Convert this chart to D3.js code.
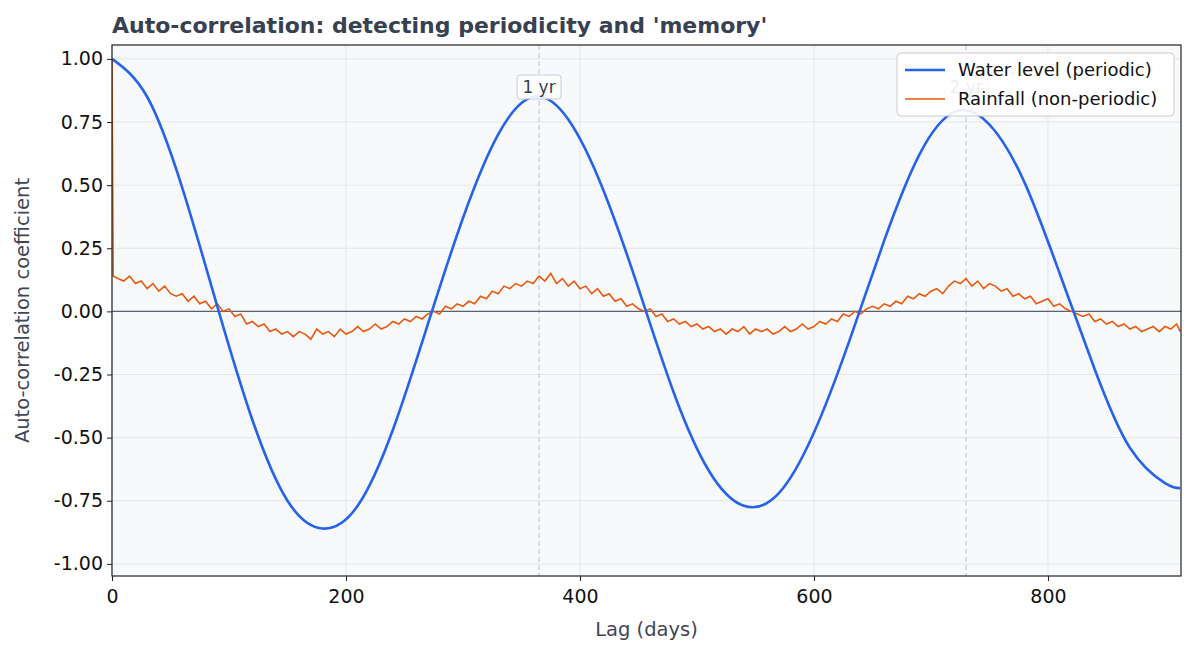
<!DOCTYPE html>
<html><head><meta charset="utf-8">
<script src="https://cdn.jsdelivr.net/npm/d3@7"></script>
<style>body{margin:0;background:#fff;font-family:"DejaVu Sans",sans-serif}</style>
</head><body><svg id="c" width="1196" height="654"></svg>
<script>
const waterLags=[0,30,60,90,120,150,180,210,240,270,300,330,360,390,420,450,480,510,540,570,600,630,660,690,720,750,780,810,840,870,900,913];
const waterVals=[1.00,0.85,0.49,0.02,-0.43,-0.75,-0.86,-0.77,-0.47,-0.05,0.37,0.70,0.85,0.76,0.48,0.09,-0.32,-0.63,-0.77,-0.72,-0.48,-0.12,0.28,0.62,0.79,0.74,0.51,0.15,-0.23,-0.54,-0.68,-0.70];
const rainStart=[1.00,0.14];
const rainVals=[0.13,0.12,0.14,0.11,0.12,0.09,0.11,0.08,0.10,0.07,
0.06,0.07,0.04,0.06,0.03,0.04,0.01,0.03,0.00,0.01,
-0.02,-0.01,-0.05,-0.04,-0.06,-0.05,-0.08,-0.07,-0.09,-0.08,
-0.10,-0.08,-0.09,-0.11,-0.07,-0.09,-0.08,-0.10,-0.07,-0.09,
-0.08,-0.06,-0.08,-0.07,-0.05,-0.07,-0.06,-0.04,-0.05,-0.03,
-0.04,-0.02,-0.03,-0.01,0.00,-0.01,0.02,0.01,0.03,0.02,
0.04,0.03,0.06,0.05,0.08,0.07,0.10,0.09,0.11,0.10,
0.12,0.11,0.14,0.12,0.15,0.11,0.13,0.10,0.12,0.09,
0.10,0.07,0.09,0.06,0.07,0.04,0.05,0.02,0.03,0.01,
0.00,0.01,-0.02,-0.01,-0.04,-0.03,-0.05,-0.04,-0.06,-0.05,
-0.07,-0.06,-0.08,-0.07,-0.09,-0.07,-0.08,-0.06,-0.09,-0.07,
-0.08,-0.07,-0.09,-0.08,-0.06,-0.08,-0.07,-0.05,-0.07,-0.06,
-0.04,-0.05,-0.03,-0.04,-0.01,-0.02,0.00,-0.01,0.01,0.02,
0.01,0.03,0.02,0.04,0.03,0.06,0.05,0.07,0.06,0.08,
0.09,0.07,0.10,0.12,0.11,0.13,0.10,0.12,0.09,0.11,
0.10,0.08,0.09,0.06,0.07,0.05,0.06,0.03,0.04,0.05,
0.02,0.03,0.01,0.00,-0.01,-0.02,-0.01,-0.04,-0.03,-0.05,
-0.04,-0.06,-0.05,-0.07,-0.06,-0.08,-0.07,-0.06,-0.08,-0.06,
-0.07,-0.05,-0.08];
const xTicks=[0,200,400,600,800];
const yTicks=[1,0.75,0.5,0.25,0,-0.25,-0.5,-0.75,-1];
const yearLags=[365,730];
const yearLabels=["1 yr","2 yr"];

const svg=d3.select("#c");
const L=112,R=1181,T=45,B=576;
const x=d3.scaleLinear().domain([0,913.7]).range([L,R]);
const y=d3.scaleLinear().domain([-1.048,1.055]).range([B,T]);
svg.append("rect").attr("x",L).attr("y",T).attr("width",R-L).attr("height",B-T).attr("fill","#f8f9fb");
const g=svg.append("g");
g.selectAll(".gx").data(xTicks).join("line").attr("x1",d=>x(d)).attr("x2",d=>x(d)).attr("y1",T).attr("y2",B).attr("stroke","#e3e6ea").attr("stroke-width",1);
g.selectAll(".gy").data(yTicks).join("line").attr("y1",d=>y(d)).attr("y2",d=>y(d)).attr("x1",L).attr("x2",R).attr("stroke","#e3e6ea").attr("stroke-width",1);
g.selectAll(".yr").data(yearLags).join("line").attr("x1",d=>x(d)).attr("x2",d=>x(d)).attr("y1",T).attr("y2",B).attr("stroke","#c5cbe0").attr("stroke-dasharray","5,3").attr("stroke-width",1.2);
g.append("line").attr("x1",L).attr("x2",R).attr("y1",y(0)).attr("y2",y(0)).attr("stroke","#5a6270").attr("stroke-width",1.2);
svg.append("clipPath").attr("id","cl").append("rect").attr("x",L).attr("y",T).attr("width",R-L).attr("height",B-T);
const rain=[[0,rainStart[0]],[1,rainStart[1]]].concat(rainVals.map((v,i)=>[i<182?5+5*i:913,v]));
const wat=waterLags.map((l,i)=>[l,waterVals[i]]);
const line=d3.line().x(d=>x(d[0])).y(d=>y(d[1]));
svg.append("path").attr("clip-path","url(#cl)").attr("d",line(rain)).attr("fill","none").attr("stroke","#ea580c").attr("stroke-width",1.6);
svg.append("path").attr("clip-path","url(#cl)").attr("d",line.curve(d3.curveNatural)(wat)).attr("fill","none").attr("stroke","#2563eb").attr("stroke-width",2.6);
yearLags.forEach((l,i)=>{
  const lg=svg.append("g").attr("transform",`translate(${x(l)},87)`);
  lg.append("rect").attr("x",-22).attr("y",-12).attr("width",44).attr("height",24).attr("rx",3).attr("fill","#fff").attr("fill-opacity",0.9).attr("stroke","#c5cbe0");
  lg.append("text").attr("text-anchor","middle").attr("dy","0.35em").attr("font-size",17).attr("fill","#374151").text(yearLabels[i]);
});
svg.append("rect").attr("x",L).attr("y",T).attr("width",R-L).attr("height",B-T).attr("fill","none").attr("stroke","#222").attr("stroke-width",1.2);
const xa=svg.append("g").attr("transform",`translate(0,${B})`).call(d3.axisBottom(x).tickValues(xTicks).tickSize(5).tickFormat(d3.format("d")));
const ya=svg.append("g").attr("transform",`translate(${L},0)`).call(d3.axisLeft(y).tickValues(yTicks).tickSize(5).tickFormat(d=>d.toFixed(2).replace("−","-")));
[xa,ya].forEach(a=>{a.select(".domain").remove();a.selectAll("text").attr("font-size",19).attr("fill","#111").attr("font-family","DejaVu Sans");a.selectAll("line").attr("stroke","#222");});
xa.selectAll("text").attr("dy","1.0em");
ya.selectAll("text").attr("x",-9);
svg.append("text").attr("x",(L+R)/2).attr("y",636).attr("text-anchor","middle").attr("font-size",19.5).attr("fill","#3f4656").text("Lag (days)");
svg.append("text").attr("transform",`translate(29,${(T+B)/2}) rotate(-90)`).attr("text-anchor","middle").attr("font-size",19.5).attr("fill","#3f4656").text("Auto-correlation coefficient");
svg.append("text").attr("x",L).attr("y",33).attr("font-size",22).attr("font-weight","bold").attr("fill","#374151").text("Auto-correlation: detecting periodicity and 'memory'");
const lgd=svg.append("g").attr("transform","translate(897,53)");
lgd.append("rect").attr("width",277).attr("height",63).attr("rx",4).attr("fill","#fff").attr("fill-opacity",0.9).attr("stroke","#ccc");
[["Water level (periodic)","#2563eb",2.6],["Rainfall (non-periodic)","#ea580c",1.6]].forEach((d,i)=>{
  lgd.append("line").attr("x1",8).attr("x2",48).attr("y1",17+i*29).attr("y2",17+i*29).attr("stroke",d[1]).attr("stroke-width",d[2]);
  lgd.append("text").attr("x",61).attr("y",17+i*29).attr("dy","0.35em").attr("font-size",18).attr("fill","#111").text(d[0]);
});
</script></body></html>
